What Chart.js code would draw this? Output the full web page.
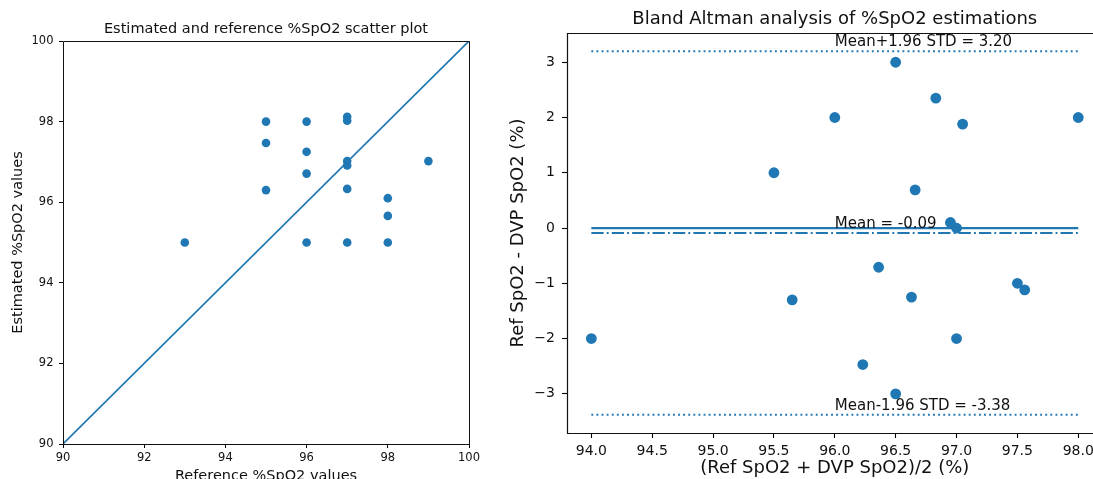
<!DOCTYPE html>
<html>
<head>
<meta charset="utf-8">
<script src="https://cdn.jsdelivr.net/npm/chart.js@4"></script>
<style>
  html, body { margin: 0; padding: 0; background: #fff; overflow: hidden; }
  #page { width: 1093px; height: 479px; overflow: hidden; position: relative; }
  .box { position: absolute; top: 0; height: 479px; overflow: hidden; }
  #leftBox { left: 0; width: 500px; }
  #rightBox { left: 500px; width: 593px; }
  canvas { display: block; }
</style>
</head>
<body>
<div id="page">
  <div class="box" id="leftBox"><canvas id="scatter" width="500" height="500"></canvas></div>
  <div class="box" id="rightBox"><canvas id="bland" width="640" height="500"></canvas></div>
</div>
<script>
// scatter plot: reference vs estimated spo2
const refSpO2 = [93, 95, 95, 95, 96, 96, 96, 96, 97, 97, 97, 97, 97, 97, 98, 98, 98, 99];
const estSpO2 = [95, 98, 97.47, 96.3, 98, 97.25, 96.71, 95, 98.12, 98.02, 97.02, 96.91, 96.33, 95, 96.1, 95.66, 95, 97.02];
const identityLine = [90, 100];
const scatterTicks = [90, 92, 94, 96, 98, 100];

// bland altman: mean of both vs difference
const baMean = [94.0, 96.5, 96.23, 95.65, 97.0, 96.63, 96.36, 95.5, 97.56, 97.5, 97.0, 96.95, 96.66, 96.0, 97.05, 96.83, 96.5, 98.0];
const baDiff = [-2.0, -3.0, -2.47, -1.3, -2.0, -1.25, -0.71, 1.0, -1.12, -1.0, 0.0, 0.1, 0.69, 2.0, 1.88, 2.35, 3.0, 2.0];
const baLineX = [94, 98];
const zeroLine = 0;
const meanDiff = -0.09;
const upperLimit = 3.20;
const lowerLimit = -3.38;
const annoLabels = ["Mean+1.96 STD = 3.20", "Mean = -0.09", "Mean-1.96 STD = -3.38"];
const annoY = [upperLimit, meanDiff, lowerLimit];
const annoX = 96;

const BLUE = "#1f77b4";
const FONT = "'DejaVu Sans', sans-serif";

Chart.defaults.color = "#000";
Chart.defaults.font.family = FONT;
Chart.defaults.animation = false;

// matplotlib style spines around the plot area
// (right spine of the bland altman plot is cut off in the original)
const framePlugin = {
  id: "frame",
  afterDatasetsDraw(chart, args, opts) {
    const { ctx, chartArea: a } = chart;
    const l = Math.round(a.left) + 0.5, t = Math.round(a.top) + 0.5;
    const r = Math.round(a.right) + 0.5, b = Math.round(a.bottom) + 0.5;
    ctx.save();
    ctx.strokeStyle = "#111";
    ctx.lineWidth = opts.width || 1;
    ctx.beginPath();
    if (opts.right === false) {
      ctx.moveTo(r, t); ctx.lineTo(l, t); ctx.lineTo(l, b); ctx.lineTo(r, b);
    } else {
      ctx.rect(l, t, r - l, b - t);
    }
    ctx.stroke();
    ctx.restore();
  }
};

// text labels for the mean / limit lines, sitting just above each line
const annoPlugin = {
  id: "anno",
  afterDatasetsDraw(chart) {
    if (chart.canvas.id !== "bland") return;
    const { ctx, scales } = chart;
    ctx.save();
    ctx.font = "15px " + FONT;
    ctx.fillStyle = "#111";
    ctx.textAlign = "left";
    ctx.textBaseline = "bottom";
    annoLabels.forEach((txt, i) => {
      ctx.fillText(txt, scales.x.getPixelForValue(annoX), scales.y.getPixelForValue(annoY[i]) - 1.5);
    });
    ctx.restore();
  }
};

const minus = v => (v < 0 ? "\u2212" + Math.abs(v) : String(v));

function tickGrid(len, w) {
  return { display: true, drawOnChartArea: false, drawTicks: true, tickLength: len, tickWidth: w, color: "#000" };
}

// ---- left chart ----
new Chart(document.getElementById("scatter"), {
  type: "scatter",
  data: {
    datasets: [
      {
        data: refSpO2.map((r, i) => ({ x: r, y: estSpO2[i] })),
        backgroundColor: BLUE,
        borderColor: BLUE,
        borderWidth: 0,
        pointRadius: 4.3,
        order: 2
      },
      {
        type: "line",
        data: identityLine.map(v => ({ x: v, y: v })),
        borderColor: BLUE,
        borderWidth: 1.6,
        pointRadius: 0,
        order: 1
      }
    ]
  },
  options: {
    responsive: false,
    devicePixelRatio: 1,
    layout: { padding: { left: 0, right: 31, top: 0, bottom: 0 } },
    plugins: {
      legend: { display: false },
      tooltip: { enabled: false },
      title: {
        display: true,
        fullSize: false,
        text: "Estimated and reference %SpO2 scatter plot",
        font: { size: 14.5, weight: "normal" },
        color: "#111",
        padding: { top: 21, bottom: 2.6 }
      },
      frame: { width: 1 }
    },
    scales: {
      x: {
        type: "linear",
        min: 90, max: 100,
        afterFit: s => { s.height = 56; },
        afterBuildTicks: s => { s.ticks = scatterTicks.map(v => ({ value: v })); },
        border: { display: false },
        grid: tickGrid(4, 1),
        ticks: { font: { size: 11.5 }, padding: 3.5, color: "#111" },
        title: { display: true, text: "Reference %SpO2 values", font: { size: 14.5 }, color: "#111", padding: { top: 0, bottom: 15.3 } }
      },
      y: {
        type: "linear",
        min: 90, max: 100,
        afterFit: s => { s.width = 63; },
        afterBuildTicks: s => { s.ticks = scatterTicks.map(v => ({ value: v })); },
        border: { display: false },
        grid: tickGrid(4, 1),
        ticks: { font: { size: 11.5 }, padding: 5.5, color: "#111" },
        title: { display: true, text: "Estimated %SpO2 values", font: { size: 14.5 }, color: "#111", padding: { top: 9.6, bottom: 0 } }
      }
    }
  },
  plugins: [framePlugin]
});

// ---- right chart ----
function hline(y, width, dash) {
  return {
    type: "line",
    data: baLineX.map(x => ({ x: x, y: y })),
    borderColor: BLUE,
    borderWidth: width,
    borderDash: dash,
    pointRadius: 0,
    order: 1
  };
}

new Chart(document.getElementById("bland"), {
  type: "scatter",
  data: {
    datasets: [
      {
        data: baMean.map((m, i) => ({ x: m, y: baDiff[i] })),
        backgroundColor: BLUE,
        borderColor: BLUE,
        borderWidth: 0,
        pointRadius: 5.4,
        order: 0
      },
      hline(zeroLine, 2.2, []),
      hline(meanDiff, 1.9, [12.3, 3.1, 1.9, 3.1]),
      hline(upperLimit, 1.9, [1.9, 3.2]),
      hline(lowerLimit, 1.9, [1.9, 3.2])
    ]
  },
  options: {
    responsive: false,
    devicePixelRatio: 1,
    layout: { padding: { left: 0, right: 37.4, top: 0, bottom: 0 } },
    plugins: {
      legend: { display: false },
      tooltip: { enabled: false },
      title: {
        display: true,
        fullSize: false,
        text: "Bland Altman analysis of %SpO2 estimations",
        font: { size: 18, weight: "normal" },
        color: "#111",
        padding: { top: 8.2, bottom: 3.2 }
      },
      frame: { width: 1.2, right: false }
    },
    scales: {
      x: {
        type: "linear",
        min: 93.8, max: 98.2,
        afterFit: s => { s.height = 67; },
        border: { display: false },
        grid: tickGrid(5, 1.1),
        ticks: { stepSize: 0.5, includeBounds: false, font: { size: 14 }, padding: 5, color: "#111", callback: v => v.toFixed(1) },
        title: { display: true, text: "(Ref SpO2 + DVP SpO2)/2 (%)", font: { size: 18 }, color: "#111", padding: { top: 0, bottom: 21.2 } }
      },
      y: {
        type: "linear",
        min: -3.709, max: 3.529,
        afterFit: s => { s.width = 67; },
        border: { display: false },
        grid: tickGrid(5, 1.1),
        ticks: { stepSize: 1, includeBounds: false, font: { size: 14 }, padding: 7, color: "#111", callback: minus },
        title: { display: true, text: "Ref SpO2 - DVP SpO2 (%)", font: { size: 18 }, color: "#111", padding: { top: 7.2, bottom: 0 } }
      }
    }
  },
  plugins: [framePlugin, annoPlugin]
});
</script>
</body>
</html>
